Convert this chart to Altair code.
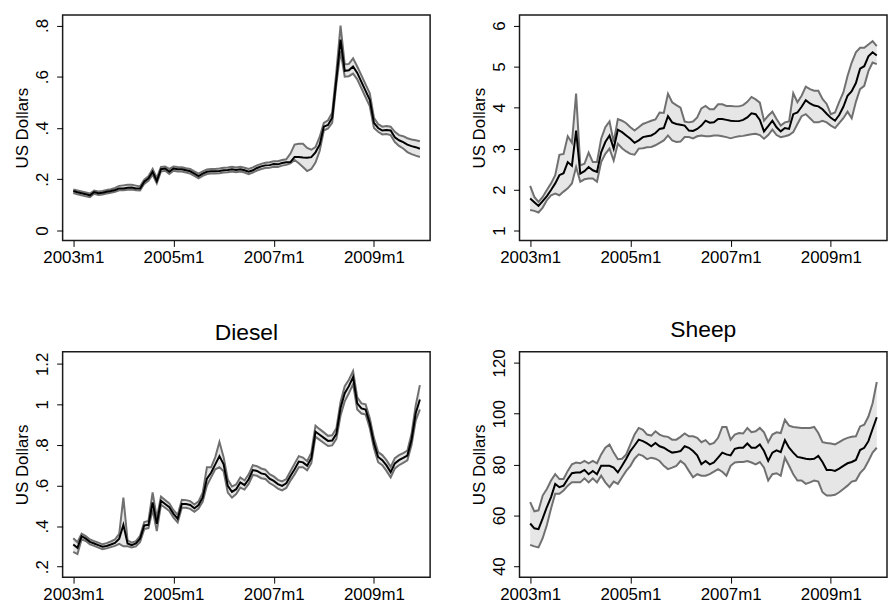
import altair as alt
import pandas as pd

# ---------------- data ----------------
months = list(range(84))  # 0 = 2003m1 ... 83 = 2009m12
x_ticks = [0, 24, 48, 72]
x_tick_labels = ["2003m1", "2005m1", "2007m1", "2009m1"]

# Panel 1 (top-left)
p1_mean = [0.154, 0.149, 0.145, 0.141, 0.137, 0.150, 0.145, 0.147, 0.151, 0.154,
           0.158, 0.164, 0.164, 0.167, 0.168, 0.164, 0.164, 0.190, 0.203, 0.229,
           0.193, 0.239, 0.242, 0.229, 0.242, 0.239, 0.239, 0.235, 0.231, 0.222,
           0.212, 0.222, 0.229, 0.231, 0.231, 0.232, 0.235, 0.236, 0.239, 0.236,
           0.239, 0.235, 0.229, 0.235, 0.244, 0.250, 0.254, 0.255, 0.259, 0.258,
           0.263, 0.266, 0.267, 0.287, 0.287, 0.285, 0.284, 0.286, 0.305, 0.335,
           0.405, 0.412, 0.440, 0.590, 0.745, 0.623, 0.625, 0.640, 0.615, 0.580,
           0.545, 0.510, 0.420, 0.400, 0.390, 0.392, 0.390, 0.364, 0.352, 0.345,
           0.335, 0.329, 0.325, 0.319]
p1_hi = [0.160, 0.156, 0.152, 0.148, 0.144, 0.156, 0.152, 0.154, 0.158, 0.161,
         0.166, 0.174, 0.176, 0.178, 0.178, 0.175, 0.172, 0.198, 0.212, 0.240,
         0.205, 0.248, 0.250, 0.240, 0.250, 0.248, 0.247, 0.243, 0.240, 0.231,
         0.222, 0.231, 0.238, 0.240, 0.240, 0.242, 0.245, 0.246, 0.249, 0.246,
         0.249, 0.245, 0.240, 0.246, 0.254, 0.260, 0.264, 0.266, 0.270, 0.270,
         0.275, 0.278, 0.300, 0.335, 0.338, 0.338, 0.322, 0.315, 0.325, 0.365,
         0.420, 0.430, 0.460, 0.620, 0.800, 0.648, 0.650, 0.672, 0.640, 0.605,
         0.570, 0.535, 0.440, 0.415, 0.405, 0.408, 0.405, 0.385, 0.372, 0.368,
         0.360, 0.355, 0.352, 0.348]
p1_lo = [0.146, 0.141, 0.137, 0.133, 0.130, 0.143, 0.138, 0.140, 0.144, 0.147,
         0.151, 0.157, 0.157, 0.159, 0.160, 0.157, 0.156, 0.182, 0.194, 0.218,
         0.184, 0.230, 0.233, 0.220, 0.233, 0.230, 0.230, 0.226, 0.222, 0.213,
         0.203, 0.213, 0.220, 0.222, 0.222, 0.223, 0.226, 0.227, 0.230, 0.227,
         0.230, 0.226, 0.220, 0.226, 0.234, 0.240, 0.244, 0.245, 0.249, 0.248,
         0.253, 0.256, 0.262, 0.275, 0.262, 0.248, 0.232, 0.240, 0.265, 0.310,
         0.390, 0.398, 0.420, 0.570, 0.700, 0.600, 0.602, 0.612, 0.590, 0.555,
         0.520, 0.485, 0.400, 0.385, 0.375, 0.376, 0.372, 0.345, 0.330, 0.320,
         0.306, 0.298, 0.292, 0.287]

# Panel 2 (top-right)
p2_mean = [1.78, 1.69, 1.60, 1.72, 1.84, 1.99, 2.15, 2.35, 2.40, 2.67,
           2.58, 3.44, 2.39, 2.45, 2.55, 2.47, 2.43, 2.91, 3.16, 3.32,
           3.00, 3.46, 3.40, 3.32, 3.24, 3.14, 3.20, 3.28, 3.30, 3.32,
           3.38, 3.48, 3.50, 3.79, 3.64, 3.60, 3.58, 3.56, 3.44, 3.43,
           3.48, 3.56, 3.68, 3.63, 3.64, 3.72, 3.72, 3.70, 3.68, 3.67,
           3.67, 3.70, 3.76, 3.86, 3.84, 3.70, 3.42, 3.55, 3.68, 3.52,
           3.42, 3.50, 3.48, 3.84, 3.88, 4.02, 4.18, 4.10, 4.05, 4.03,
           3.96, 3.85, 3.75, 3.68, 3.82, 4.02, 4.29, 4.40, 4.60, 4.95,
           5.01, 5.25, 5.35, 5.27]
p2_hi = [2.09, 1.82, 1.70, 1.82, 1.99, 2.15, 2.35, 2.85, 2.87, 3.30,
         3.14, 4.34, 2.59, 2.63, 2.90, 2.67, 2.67, 3.24, 3.52, 3.66,
         3.16, 3.72, 3.68, 3.62, 3.52, 3.44, 3.52, 3.60, 3.64, 3.68,
         3.71, 3.88, 3.87, 4.34, 4.13, 4.06, 4.00, 3.66, 3.64, 3.66,
         3.76, 3.98, 4.04, 3.96, 3.96, 4.08, 4.08, 4.04, 4.04, 4.03,
         4.03, 4.06, 4.14, 4.26, 4.20, 4.12, 3.68, 3.80, 3.90, 3.72,
         3.56, 3.64, 3.66, 4.35, 4.13, 4.29, 4.51, 4.45, 4.41, 4.41,
         4.21, 4.09, 3.84, 3.88, 4.14, 4.37, 4.77, 5.10, 5.35, 5.46,
         5.46, 5.54, 5.62, 5.50]
p2_lo = [1.50, 1.48, 1.44, 1.56, 1.74, 1.86, 1.90, 1.86, 1.95, 2.03,
         2.15, 2.55, 2.19, 2.25, 2.27, 2.27, 2.19, 2.67, 2.87, 3.00,
         2.71, 3.12, 3.01, 2.93, 2.87, 2.85, 3.00, 3.01, 3.03, 3.04,
         3.08, 3.14, 3.20, 3.32, 3.20, 3.16, 3.17, 3.28, 3.28, 3.25,
         3.30, 3.32, 3.30, 3.30, 3.32, 3.32, 3.30, 3.28, 3.25, 3.28,
         3.30, 3.31, 3.33, 3.35, 3.36, 3.33, 3.24, 3.33, 3.46, 3.33,
         3.28, 3.30, 3.33, 3.40, 3.60, 3.79, 3.84, 3.74, 3.64, 3.64,
         3.68, 3.64, 3.56, 3.50, 3.62, 3.74, 3.90, 3.74, 4.14, 4.45,
         4.53, 4.89, 5.10, 5.06]

# Panel 3: Diesel
p3_mean = [0.309, 0.293, 0.350, 0.338, 0.322, 0.314, 0.306, 0.298, 0.302, 0.309,
           0.317, 0.338, 0.406, 0.314, 0.306, 0.314, 0.338, 0.403, 0.406, 0.517,
           0.411, 0.525, 0.509, 0.493, 0.460, 0.436, 0.509, 0.509, 0.504, 0.488,
           0.504, 0.541, 0.634, 0.663, 0.704, 0.745, 0.704, 0.598, 0.569, 0.582,
           0.615, 0.602, 0.631, 0.676, 0.672, 0.660, 0.655, 0.634, 0.623, 0.607,
           0.598, 0.611, 0.647, 0.680, 0.718, 0.714, 0.698, 0.735, 0.865, 0.850,
           0.835, 0.820, 0.822, 0.855, 0.982, 1.055, 1.090, 1.135, 1.005, 0.980,
           0.975, 0.907, 0.809, 0.741, 0.725, 0.699, 0.666, 0.709, 0.725, 0.736,
           0.748, 0.826, 0.956, 1.024]
p3_hi = [0.340, 0.320, 0.362, 0.350, 0.334, 0.326, 0.318, 0.310, 0.316, 0.324,
         0.334, 0.362, 0.540, 0.330, 0.318, 0.326, 0.352, 0.420, 0.425, 0.566,
         0.440, 0.545, 0.528, 0.512, 0.478, 0.455, 0.530, 0.528, 0.523, 0.506,
         0.522, 0.565, 0.690, 0.690, 0.740, 0.815, 0.740, 0.630, 0.595, 0.605,
         0.640, 0.625, 0.655, 0.700, 0.695, 0.684, 0.678, 0.656, 0.645, 0.628,
         0.620, 0.632, 0.670, 0.708, 0.745, 0.738, 0.720, 0.762, 0.895, 0.878,
         0.862, 0.845, 0.848, 0.882, 1.012, 1.090, 1.122, 1.165, 1.035, 1.005,
         1.000, 0.932, 0.835, 0.765, 0.750, 0.725, 0.692, 0.735, 0.750, 0.760,
         0.772, 0.855, 0.995, 1.095]
p3_lo = [0.273, 0.262, 0.335, 0.326, 0.310, 0.302, 0.294, 0.286, 0.290, 0.296,
         0.302, 0.312, 0.300, 0.300, 0.294, 0.300, 0.322, 0.385, 0.390, 0.480,
         0.375, 0.505, 0.490, 0.474, 0.442, 0.418, 0.490, 0.490, 0.485, 0.470,
         0.486, 0.520, 0.600, 0.640, 0.680, 0.690, 0.670, 0.565, 0.540, 0.558,
         0.590, 0.580, 0.608, 0.652, 0.648, 0.636, 0.632, 0.612, 0.600, 0.585,
         0.576, 0.588, 0.624, 0.655, 0.690, 0.690, 0.675, 0.710, 0.840, 0.825,
         0.810, 0.795, 0.798, 0.830, 0.945, 1.015, 1.055, 1.100, 0.975, 0.955,
         0.950, 0.882, 0.784, 0.715, 0.700, 0.672, 0.640, 0.684, 0.700, 0.712,
         0.724, 0.800, 0.920, 0.975]

# Panel 4: Sheep
p4_mean = [56.8, 54.9, 54.6, 58.8, 63.3, 67.2, 72.4, 71.1, 71.7, 74.3,
           76.6, 76.9, 76.9, 77.9, 76.2, 77.5, 76.2, 79.5, 79.5, 79.5,
           78.8, 76.9, 79.5, 82.3, 85.3, 87.5, 89.8, 89.2, 88.3, 87.2,
           88.5, 87.2, 86.6, 85.6, 84.7, 84.9, 85.3, 87.2, 86.6, 85.3,
           83.6, 80.1, 81.4, 80.1, 80.8, 82.7, 84.7, 84.0, 83.6, 86.2,
           86.6, 86.6, 88.3, 86.6, 86.6, 87.9, 85.3, 81.4, 84.7, 85.6,
           84.9, 89.6, 86.6, 84.7, 83.0, 82.7, 82.3, 82.1, 82.3, 83.4,
           81.0, 77.9, 77.9, 77.5, 78.4, 79.5, 80.5, 81.0, 81.8, 85.7,
           86.6, 89.2, 94.0, 98.6]
p4_hi = [65.2, 61.6, 62.0, 67.8, 70.4, 73.7, 76.2, 74.3, 74.3, 77.5,
         80.1, 80.8, 80.5, 81.4, 80.5, 81.4, 80.5, 84.0, 86.6, 87.9,
         84.7, 82.1, 82.3, 84.0, 87.9, 91.8, 94.4, 93.7, 91.8, 91.4,
         93.1, 91.8, 91.1, 90.9, 89.8, 89.8, 90.9, 92.2, 91.1, 91.1,
         90.5, 88.8, 89.6, 87.9, 88.5, 90.5, 94.8, 94.8, 89.8, 91.8,
         92.4, 92.2, 94.4, 92.7, 93.1, 94.4, 92.7, 88.8, 91.8, 92.7,
         92.4, 97.6, 95.3, 94.8, 94.6, 94.4, 94.4, 94.4, 94.8, 92.4,
         88.8, 88.5, 88.3, 87.9, 88.8, 89.8, 90.5, 90.9, 91.1, 95.0,
         95.7, 98.9, 104.1, 112.5]
p4_lo = [48.4, 47.8, 47.4, 51.0, 56.2, 62.7, 68.5, 68.5, 69.8, 71.7,
         73.0, 73.0, 73.0, 74.6, 73.0, 74.6, 73.0, 75.6, 73.0, 71.1,
         73.3, 72.4, 75.0, 77.5, 79.5, 82.3, 84.0, 83.4, 82.1, 82.7,
         82.3, 81.4, 79.5, 78.2, 78.8, 79.5, 81.4, 80.1, 77.5, 75.0,
         76.2, 75.6, 75.6, 76.2, 77.2, 78.2, 77.2, 75.6, 79.5, 80.8,
         81.0, 81.0, 81.4, 80.8, 80.1, 81.0, 78.8, 73.7, 76.2, 76.6,
         75.6, 82.7, 79.5, 76.2, 73.7, 73.7, 72.4, 73.0, 73.7, 73.3,
         69.1, 67.8, 67.8, 68.1, 69.1, 70.4, 71.7, 73.3, 73.7, 76.6,
         78.4, 81.4, 84.7, 86.6]

p1_yticks = [0, 0.2, 0.4, 0.6, 0.8]
p1_ylabels = ["0", ".2", ".4", ".6", ".8"]
p2_yticks = [1, 2, 3, 4, 5, 6]
p2_ylabels = ["1", "2", "3", "4", "5", "6"]
p3_yticks = [0.2, 0.4, 0.6, 0.8, 1.0, 1.2]
p3_ylabels = [".2", ".4", ".6", ".8", "1", "1.2"]
p4_yticks = [40, 60, 80, 100, 120]
p4_ylabels = ["40", "60", "80", "100", "120"]

FONT = "Liberation Sans"
W, H = 370, 227


def label_expr(values, labels):
    parts = [f"abs(datum.value - {v}) < 1e-6 ? '{l}'" for v, l in zip(values, labels)]
    return " : ".join(parts) + " : ''"


def panel(mean, lo, hi, ydom, yticks, ylabels, title=None):
    df = pd.DataFrame({"m": months, "mean": mean, "lo": lo, "hi": hi})
    xscale = alt.Scale(domain=[-2.55, 85.45], nice=False, zero=False)
    xaxis = alt.Axis(values=x_ticks, labelExpr=label_expr(x_ticks, x_tick_labels),
                     title=None, grid=False, labelFlush=False)
    yscale = alt.Scale(domain=ydom, nice=False, zero=False)
    yaxis = alt.Axis(values=yticks, labelExpr=label_expr(yticks, ylabels),
                     title="US Dollars", grid=False, labelFlush=False, labelBound=False,
                     labelOverlap=False)

    def X():
        return alt.X("m:Q", scale=xscale, axis=xaxis)

    def Y(f):
        return alt.Y(f"{f}:Q", scale=yscale, axis=yaxis)

    base = alt.Chart(df)
    band = base.mark_area(color="#e6e6e6", opacity=1).encode(x=X(), y=Y("lo"), y2="hi:Q")
    up = base.mark_line(color="#707070", strokeWidth=2).encode(x=X(), y=Y("hi"))
    dn = base.mark_line(color="#707070", strokeWidth=2).encode(x=X(), y=Y("lo"))
    mn = base.mark_line(color="black", strokeWidth=2).encode(x=X(), y=Y("mean"))
    ch = alt.layer(band, up, dn, mn).properties(width=W, height=H)
    if title:
        ch = ch.properties(title=alt.Title(title))
    return ch


c1 = panel(p1_mean, p1_lo, p1_hi, [-0.039, 0.841], p1_yticks, p1_ylabels)
c2 = panel(p2_mean, p2_lo, p2_hi, [0.758, 6.26], p2_yticks, p2_ylabels)
c3 = panel(p3_mean, p3_lo, p3_hi, [0.148, 1.26], p3_yticks, p3_ylabels, "Diesel")
c4 = panel(p4_mean, p4_lo, p4_hi, [35.7, 124.4], p4_yticks, p4_ylabels, "Sheep")

chart = alt.concat(c1, c2, c3, c4, columns=2).properties(
    spacing={"row": 112, "column": 90},
    bounds="flush",
    padding={"left": 5, "top": 4, "right": 0, "bottom": 0},
    background="white",
).configure_view(
    stroke="#1a1a1a", strokeWidth=1.5
).configure_axis(
    domain=False, ticks=True, tickColor="black", tickSize=6, tickWidth=1,
    labelFont=FONT, labelFontSize=17, labelColor="black",
    titleFont=FONT, titleFontSize=17, titleColor="black", titleFontWeight="normal",
).configure_axisX(
    labelPadding=3,
).configure_axisY(
    labelAngle=270, labelAlign="center", labelBaseline="bottom", labelPadding=5,
    titlePadding=2,
).configure_title(
    font=FONT, fontSize=23, fontWeight="normal", color="black", offset=7, anchor="middle",
)

chart.save("out.html", embed_options={"renderer": "svg", "actions": False})
